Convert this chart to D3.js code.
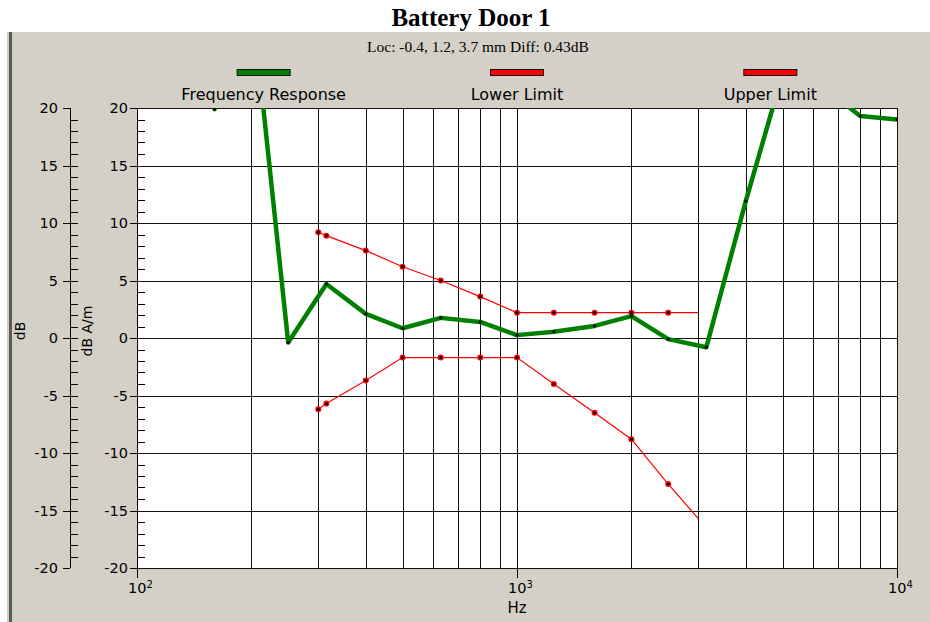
<!DOCTYPE html>
<html>
<head>
<meta charset="utf-8">
<script src="https://cdn.jsdelivr.net/npm/d3@7"></script>
<style>
  body { margin: 0; background: #fff; }
  svg { display: block; }
  text { font-family: "DejaVu Sans", Arial, sans-serif; fill: #000; }
  .serif { font-family: "Liberation Serif", "Times New Roman", serif; }
</style>
</head>
<body>
<div id="card"></div>
<script>
// data
const freqs = [100, 125, 160, 200, 250, 315, 400, 500, 630, 800, 1000, 1250, 1600, 2000, 2500, 3150, 4000, 5000, 6300, 8000, 10000];
const response = [32, 28, 19.9, 29.8, -0.4, 4.7, 2.1, 0.85, 1.75, 1.4, 0.25, 0.55, 1.05, 1.9, -0.1, -0.8, 11.9, 23, 22, 19.3, 19.0];
const limitFreqs = [300, 315, 400, 500, 630, 800, 1000, 1250, 1600, 2000, 2500, 3000];
const lowerLimit = [-6.2, -5.7, -3.7, -1.7, -1.7, -1.7, -1.7, -4.0, -6.5, -8.8, -12.7, -15.7];
const upperLimit = [9.2, 8.9, 7.6, 6.2, 5.0, 3.6, 2.2, 2.2, 2.2, 2.2, 2.2, 2.2];
const yTicks = [-20, -15, -10, -5, 0, 5, 10, 15, 20];
const xTicks = [100, 1000, 10000];
const xTickExp = ["2", "3", "4"];
const legendNames = ["Frequency Response", "Lower Limit", "Upper Limit"];
const legendColors = ["#008000", "#ff0000", "#ff0000"];

const w = 930, h = 622;
const margin = { top: 108, left: 137, right: 33, bottom: 54 };
const width = w - margin.left - margin.right;
const height = h - margin.top - margin.bottom;

const svg = d3.select("#card").append("svg")
  .attr("width", w)
  .attr("height", h);

// panel background
svg.append("rect").attr("x", 6).attr("y", 32).attr("width", w - 6).attr("height", h - 32).attr("fill", "#d4d0c8");
svg.append("rect").attr("x", 6).attr("y", 32).attr("width", 1).attr("height", h - 32).attr("fill", "#fff");
svg.append("rect").attr("x", 9).attr("y", 32).attr("width", 3).attr("height", h - 32).attr("fill", "#5a5a5a");

// titles
svg.append("text").attr("class", "serif")
  .attr("x", 471).attr("y", 26)
  .attr("text-anchor", "middle")
  .style("font-size", "25px").style("font-weight", "bold")
  .text("Battery Door 1");
svg.append("text").attr("class", "serif")
  .attr("x", 478).attr("y", 52)
  .attr("text-anchor", "middle")
  .style("font-size", "15.5px")
  .text("Loc: -0.4, 1.2, 3.7 mm Diff: 0.43dB");

const x = d3.scaleLog().domain([100, 10000]).range([margin.left, margin.left + width]);
const y = d3.scaleLinear().domain([-20, 20]).range([margin.top + height, margin.top]);

// legend
const legend = svg.append("g");
legendNames.forEach((name, i) => {
  const cx = margin.left + width * (2 * i + 1) / 6;
  legend.append("rect")
    .attr("x", cx - 26.5).attr("y", 69.5).attr("width", 53).attr("height", 6)
    .attr("fill", legendColors[i]).attr("stroke", "#111").attr("stroke-width", 1);
  legend.append("text")
    .attr("x", cx).attr("y", 100)
    .attr("text-anchor", "middle")
    .style("font-size", "16px")
    .text(name);
});

// plot area
svg.append("rect")
  .attr("x", margin.left).attr("y", margin.top)
  .attr("width", width).attr("height", height)
  .attr("fill", "#fff");

// gridlines
const xGrid = [];
[100, 1000].forEach(d => { for (let k = 2; k <= 9; k++) xGrid.push(d * k); });
xGrid.push(1000);

const grid = svg.append("g").attr("stroke", "#111").attr("stroke-width", 1).attr("shape-rendering", "crispEdges");
grid.selectAll(".vg").data(xGrid).enter().append("line")
  .attr("x1", d => Math.round(x(d)) + 0.5).attr("x2", d => Math.round(x(d)) + 0.5)
  .attr("y1", margin.top).attr("y2", margin.top + height);
grid.selectAll(".hg").data(yTicks.filter(d => d > -20 && d < 20)).enter().append("line")
  .attr("x1", margin.left).attr("x2", margin.left + width)
  .attr("y1", d => Math.round(y(d)) + 0.5).attr("y2", d => Math.round(y(d)) + 0.5);

// plot border (top, right, bottom)
grid.append("line").attr("x1", margin.left).attr("x2", margin.left + width).attr("y1", margin.top + 0.5).attr("y2", margin.top + 0.5);
grid.append("line").attr("x1", margin.left + width + 0.5).attr("x2", margin.left + width + 0.5).attr("y1", margin.top).attr("y2", margin.top + height);
grid.append("line").attr("x1", margin.left).attr("x2", margin.left + width).attr("y1", margin.top + height + 0.5).attr("y2", margin.top + height + 0.5);

// y axes: outer (dB) and inner (dB A/m)
const minor = d3.range(-19, 20).filter(d => d % 5 !== 0);
function yAxisAt(ax, labelX, labelText, labelCx) {
  const g = svg.append("g").attr("stroke", "#000").attr("shape-rendering", "crispEdges");
  g.append("line").attr("x1", ax + 0.5).attr("x2", ax + 0.5)
    .attr("y1", y(20)).attr("y2", y(-20) + (ax === margin.left ? 10 : 0));
  g.selectAll(".maj").data(yTicks).enter().append("line")
    .attr("x1", ax - 7).attr("x2", d => (ax === margin.left || Math.abs(d) === 20) ? ax : ax + 8)
    .attr("y1", d => Math.round(y(d)) + 0.5).attr("y2", d => Math.round(y(d)) + 0.5);
  g.selectAll(".min").data(minor).enter().append("line")
    .attr("x1", ax).attr("x2", ax + 8)
    .attr("y1", d => Math.round(y(d)) + 0.5).attr("y2", d => Math.round(y(d)) + 0.5);
  svg.append("g").selectAll("text").data(yTicks).enter().append("text")
    .attr("x", labelX).attr("y", d => y(d) + 5)
    .attr("text-anchor", "end")
    .style("font-size", "14.5px")
    .text(d => d);
  svg.append("text")
    .attr("transform", "translate(" + labelCx + "," + 331 + ") rotate(-90)")
    .attr("text-anchor", "middle")
    .style("font-size", "14px")
    .text(labelText);
}
yAxisAt(70, 58, "dB", 25);
yAxisAt(margin.left, 128, "dB A/m", 92);

// x axis ticks and labels
const xa = svg.append("g");
xa.selectAll("line").data(xTicks).enter().append("line")
  .attr("x1", d => Math.round(x(d)) + 0.5).attr("x2", d => Math.round(x(d)) + 0.5)
  .attr("y1", margin.top + height).attr("y2", margin.top + height + 10)
  .attr("stroke", "#000").attr("shape-rendering", "crispEdges");
const xl = xa.selectAll(".xl").data(xTicks).enter().append("text")
  .attr("x", d => x(d) - 9).attr("y", 593)
  .style("font-size", "14.5px");
xl.append("tspan").text("10");
xl.append("tspan").attr("dy", -5).style("font-size", "10px").text((d, i) => xTickExp[i]);
svg.append("text")
  .attr("x", x(1000)).attr("y", 613)
  .attr("text-anchor", "middle")
  .style("font-size", "15px")
  .text("Hz");

// clip for data
svg.append("clipPath").attr("id", "clip").append("rect")
  .attr("x", margin.left).attr("y", margin.top)
  .attr("width", width).attr("height", height);

const plot = svg.append("g").attr("clip-path", "url(#clip)");

const line = d3.line().x(d => x(d[0])).y(d => y(d[1]));

const limits = [lowerLimit, upperLimit];
limits.forEach(vals => {
  const pts = limitFreqs.map((f, i) => [f, vals[i]]);
  plot.append("path").datum(pts)
    .attr("d", line).attr("fill", "none")
    .attr("stroke", "#ff0000").attr("stroke-width", 1.2);
  const mk = plot.selectAll(null).data(pts.slice(0, -1)).enter().append("g")
    .attr("transform", d => "translate(" + x(d[0]) + "," + y(d[1]) + ")");
  mk.append("circle").attr("r", 3).attr("fill", "#ff0000");
  mk.append("circle").attr("r", 1.6).attr("fill", "#000");
});

const resp = freqs.map((f, i) => [f, response[i]]);
plot.append("path").datum(resp)
  .attr("d", line).attr("fill", "none")
  .attr("stroke", "#008000").attr("stroke-width", 4.5)
  .attr("stroke-linejoin", "round");
plot.selectAll(".dot").data(resp).enter().append("circle")
  .attr("cx", d => x(d[0])).attr("cy", d => y(d[1]))
  .attr("r", 1.6).attr("fill", "#000");
</script>
</body>
</html>
